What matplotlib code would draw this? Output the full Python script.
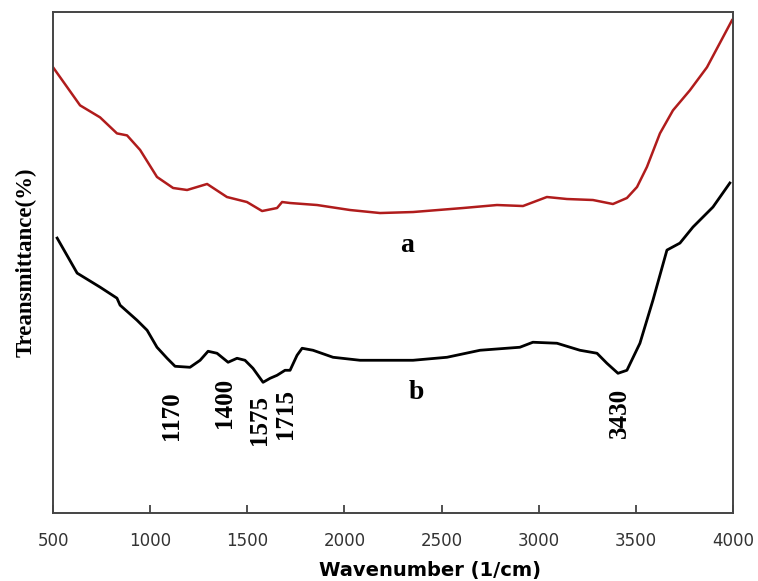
import numpy as np
import matplotlib
matplotlib.use('Agg')
import matplotlib.pyplot as plt

# FTIR spectra (arbitrary transmittance units)
wn_a = [500, 639, 742, 829, 881, 948, 1035, 1118, 1190, 1293, 1395, 1498, 1576, 1653,
        1679, 1720, 1859, 2029, 2183, 2353, 2610, 2785, 2919, 3042, 3145, 3279, 3382,
        3454, 3506, 3557, 3624, 3691, 3778, 3866, 3995]
tr_a = [89.0, 81.4, 79.0, 75.8, 75.4, 72.5, 67.1, 64.9, 64.5, 65.7, 63.1, 62.1, 60.3, 60.9,
        62.1, 61.9, 61.5, 60.5, 59.9, 60.1, 60.9, 61.5, 61.3, 63.1, 62.7, 62.5, 61.7,
        62.9, 65.1, 69.1, 75.8, 80.4, 84.4, 89.0, 98.4]

wn_b = [521, 624, 742, 829, 845, 932, 984, 1035, 1087, 1128, 1205, 1257, 1298, 1344,
        1401, 1447, 1488, 1529, 1581, 1617, 1653, 1694, 1720, 1756, 1782, 1838, 1941,
        2080, 2183, 2353, 2528, 2698, 2903, 2970, 3094, 3212, 3300, 3351, 3408, 3454,
        3521, 3588, 3660, 3727, 3794, 3897, 3984]
tr_b = [54.9, 47.9, 45.1, 42.9, 41.5, 38.5, 36.5, 33.1, 30.9, 29.3, 29.1, 30.5, 32.3, 31.9,
        30.1, 30.9, 30.5, 28.9, 26.1, 26.9, 27.5, 28.5, 28.5, 31.5, 32.9, 32.5, 31.1,
        30.5, 30.5, 30.5, 31.1, 32.5, 33.1, 34.1, 33.9, 32.5, 31.9, 29.9, 27.9, 28.5,
        33.9, 42.5, 52.5, 53.9, 57.1, 61.1, 65.9]

peak_labels = ['1170', '1400', '1575', '1715', '3430']
peak_x = [1112, 1385, 1565, 1694, 3418]
peak_y = [19.4, 22.0, 18.6, 19.8, 19.9]

fig = plt.figure(figsize=(7.58, 5.81), dpi=100)
ax = fig.add_axes([0.07, 0.117, 0.897, 0.862])

ax.plot(wn_a, tr_a, color='#b01c1c', lw=1.8)
ax.plot(wn_b, tr_b, color='black', lw=2.0)

serif = 'Liberation Serif'
ax.text(2322, 53.5, 'a', family=serif, fontweight='bold', fontsize=20,
        ha='center', va='center')
ax.text(2368, 24.0, 'b', family=serif, fontweight='bold', fontsize=20,
        ha='center', va='center')
for lab, px, py in zip(peak_labels, peak_x, peak_y):
    ax.text(px, py, lab, rotation=90, family=serif, fontweight='bold',
            fontsize=18, ha='center', va='center')

ax.set_xlim(500, 4000)
ax.set_ylim(0, 100)
ax.set_xticks(np.arange(500, 4001, 500))
ax.set_yticks([])
ax.tick_params(axis='x', direction='in', length=6, width=1.2, pad=14,
               labelsize=12, labelcolor='#333333', color='#333333')
for s in ax.spines.values():
    s.set_color('#444444')
    s.set_linewidth(1.4)

ax.set_xlabel('Wavenumber (1/cm)', fontweight='bold', fontsize=14, labelpad=2)
ax.xaxis.set_label_coords(0.554, -0.095)
ax.set_ylabel('Treansmittance(%)', family=serif, fontweight='bold',
              fontsize=16.5, labelpad=12)

fig.savefig('out.png', dpi=100)
